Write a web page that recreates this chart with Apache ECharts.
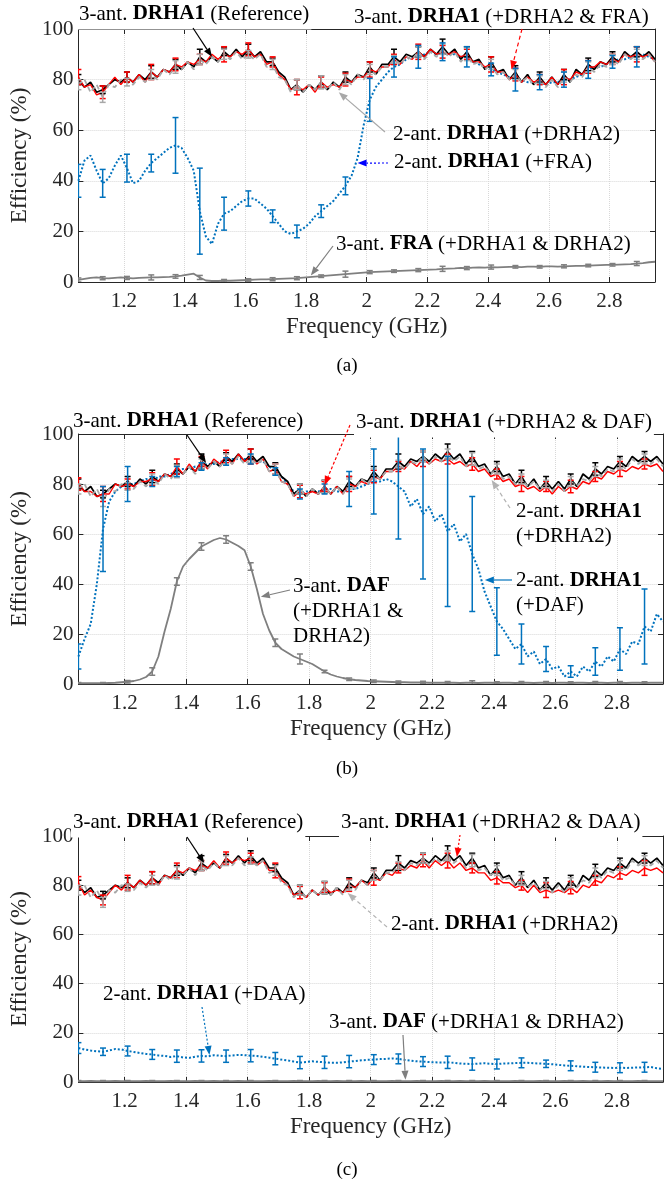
<!DOCTYPE html>
<html><head><meta charset="utf-8">
<script src="https://cdn.jsdelivr.net/npm/echarts@6/dist/echarts.min.js"></script>
<style>html,body{margin:0;padding:0;background:#fff}#c{width:664px;height:1183px}</style>
</head><body><div id="c"></div>
<script>
// sampling grid of the measurements (GHz)
const F0 = 1.05, DF = 0.02, N = 96, ERR_STEP = 4;
const X_MIN = 1.05, X_MAX = 2.95;
const Y_TICKS = [0, 20, 40, 60, 80, 100];

// 3-ant. DRHA1 (Reference) — same in all panels
const refDRHA1 = [
 80,77,79,75,76,78,80,79,81,79,
 82,80,83,81,84,83,86,84,87,85,
 89,87,89,87,91,89,92,89,92,89,
 91,87,87,83,81,76,78,75,78,76,
 79,76,79,77,81,79,82,81,85,82,
 86,86,89,87,90,89,91,89,92,90,
 93,90,92,88,91,87,88,84,87,83,
 84,80,83,79,82,78,81,78,81,78,
 82,79,84,82,86,84,87,86,89,87,
 91,89,91,89,91,88];
const errRef = [2,1.5,2,2.5,2,3,1.5,2,1.5,2,2.5,2,2,3,2,3,2,2,2.5,2,2,2.5,2,2];

// 2-ant. DRHA1 (+DRHA2) — same in all panels
const twoAntDRHA2 = [
 78,80,75,78,73,78,77,80,79,78,
 81,79,82,80,84,82,85,84,87,84,
 88,86,89,87,90,88,91,88,90,88,
 90,85,86,81,80,75,78,75,78,76,
 79,76,79,76,80,78,82,80,84,82,
 85,85,88,86,89,88,91,88,91,89,
 92,89,91,87,90,86,87,84,86,82,
 83,80,82,79,81,78,80,77,80,77,
 81,79,82,81,85,83,86,85,88,86,
 90,88,90,88,90,87];
const errTwoAnt = [2,2,1.5,2,2.5,2,2,1.5,2,2,2.5,2,2,1.5,2,2,2.5,2,2,1.5,2,2,2,2];

// (a) 3-ant. DRHA1 (+DRHA2 & FRA)
const redA = [
 81,77,78,74,75,78,81,78,81,79,
 82,79,83,81,84,83,86,85,87,86,
 88,87,90,88,90,89,91,90,92,89,
 90,86,87,82,80,76,77,76,78,75,
 79,77,78,77,80,79,81,81,84,83,
 85,85,88,86,89,88,91,89,92,90,
 91,90,91,89,90,87,87,85,86,83,
 83,80,82,79,81,79,80,78,81,78,
 81,80,83,82,85,85,87,86,88,87,
 90,89,90,89,90,87];
const errRedA = [3,2.5,2,3,2.5,2,3,2.5,2,3,2,2.5,3,2,3,2.5,2,3,2.5,2,3,2.5,2,3];
// (a) 2-ant. DRHA1 (+FRA)
const blueA = [
 40,48,50,44,39,41,46,50,45,39,
 40,44,47,49,51,53,54,53,49,44,
 28,18,15,23,27,28,30,32,33,33,
 31,29,26,23,20,19,20,21,23,26,
 28,30,32,35,38,42,49,62,72,77,
 80,83,85,86,88,89,89,90,91,90,
 91,90,90,89,89,87,86,85,84,83,
 82,81,80,80,79,79,79,78,79,79,
 80,80,81,82,84,85,85,86,87,88,
 88,89,89,90,89,88];
const errBlueA = [6.5,5.5,5.5,3.5,11,17,6.5,3,2.5,2.5,2.5,3.5,8.5,4,4.5,3.5,4,2.5,4.5,3,3,3.5,2.5,4];
// (a) 3-ant. FRA (+DRHA1 & DRHA2)
const lowA = [
 0.8,1.2,1.6,1.8,1.5,1.4,1.6,1.8,1.6,1.4,
 1.6,1.7,1.8,1.8,1.9,2.0,2.2,2.5,2.9,3.3,
 1.8,0.6,0.4,0.4,0.5,0.5,0.6,0.7,0.8,0.9,
 1.0,1.0,1.1,1.2,1.3,1.4,1.5,1.7,1.9,2.1,
 2.3,2.5,2.7,2.9,3.1,3.3,3.5,3.7,3.9,4.0,
 4.1,4.2,4.3,4.4,4.5,4.6,4.7,4.8,4.9,5.0,
 5.2,5.3,5.4,5.6,5.5,5.7,5.8,5.7,5.9,5.8,
 5.9,6.0,6.0,5.9,6.1,6.1,6.0,6.2,6.2,6.1,
 6.2,6.3,6.4,6.4,6.5,6.6,6.7,6.8,6.8,6.9,
 7.0,7.1,7.3,7.5,7.8,8.0];
const errLowA = [0.8,0.6,0.6,1,0.7,0.8,0.5,0.5,0.6,0.6,0.5,1.2,0.6,0.5,0.6,1,0.6,0.8,0.5,0.5,0.6,0.5,0.5,0.8];

// (b) 3-ant. DRHA1 (+DRHA2 & DAF)
const redB = [
 80,77,77,75,76,76,80,79,80,79,
 81,81,82,81,84,83,87,84,88,85,
 89,86,90,88,91,88,92,89,91,88,
 90,85,86,81,80,75,77,76,77,76,
 79,76,79,76,80,79,81,80,83,82,
 85,85,87,86,89,87,90,88,90,89,
 90,88,89,87,88,85,86,83,84,81,
 82,79,80,78,79,77,79,76,79,77,
 79,78,81,80,83,82,85,84,86,85,
 87,86,88,87,88,85];
const errRedB = [2.5,3,2,2.5,3,2,2.5,3,2,2.5,2,3,2.5,2,3,2,2.5,2,3,2,2.5,2,3,2];
// (b) 2-ant. DRHA1 (+DAF)
const blueB = [
 11,18,24,40,62,73,77,79,80,80,
 81,82,81,83,83,84,85,86,86,87,
 87,88,88,89,89,90,90,90,90,89,
 89,87,85,83,80,77,76,77,77,77,
 78,78,77,77,78,78,79,80,81,81,
 82,81,79,77,71,74,68,71,65,68,
 61,64,57,60,52,46,37,31,25,22,
 18,14,16,11,13,8,10,6,7,3,
 5,3,7,5,9,7,11,9,14,12,
 17,16,23,21,28,25];
const errBlueB = [5,17,7,2,2,1.5,1.5,2,1.5,2,2,7,13,21,26,30,23,13.5,8,5,2.3,5.5,8.5,15];
// (b) 3-ant. DAF (+DRHA1 & DRHA2)
const dafB = [
 0.3,0.3,0.3,0.3,0.3,0.4,0.5,0.7,0.9,1.2,
 1.8,2.8,5.0,11,21,30,41,47,50,52.5,
 55,56.3,57.6,58.4,57.8,56.5,55.2,53.5,47,38,
 28,21.5,16.5,14,12.5,11,10,9,8,6.5,
 5,3.8,3,2.4,1.9,1.6,1.4,1.2,1.1,1.0,
 0.9,0.8,0.7,0.7,0.6,0.6,0.6,0.5,0.5,0.5,
 0.5,0.5,0.4,0.5,0.5,0.4,0.5,0.5,0.4,0.5,
 0.5,0.4,0.5,0.5,0.4,0.5,0.5,0.4,0.5,0.5,
 0.4,0.5,0.5,0.4,0.5,0.5,0.4,0.5,0.5,0.4,
 0.5,0.5,0.4,0.5,0.5,0.5];
const errDafB = [0.3,0.3,0.5,1.5,1.5,1.5,1.5,1.5,1.5,2,0.5,0.5,0.5,0.5,0.5,0.5,0.8,0.5,0.5,0.5,0.5,0.5,0.5,0.5];

// (c) 3-ant. DRHA1 (+DRHA2 & DAA)
const redC = [
 81,76,78,75,74,77,80,78,81,79,
 82,80,83,80,84,83,86,85,87,86,
 88,87,90,87,91,89,91,90,91,88,
 90,86,86,82,80,76,77,75,78,76,
 79,77,78,77,80,79,82,80,83,82,
 85,84,87,86,88,87,90,87,90,88,
 90,87,89,86,87,85,85,82,83,81,
 81,79,80,77,80,77,78,77,78,77,
 79,77,80,79,82,81,84,83,85,84,
 86,85,87,86,87,85];
const errRedC = [2.5,2,3,2.5,3,2,2.5,2,3,2.5,2,2.5,3,2,2.5,3,2,2.5,2,3,2.5,2,2.5,3];
// (c) 2-ant. DRHA1 (+DAA)
const blueC = [
 13.8,13.2,12.8,12.5,12.3,12.8,13.4,13.2,12.6,12.2,
 11.8,11.4,11.2,10.8,10.6,10.2,10.5,10.0,9.8,10.3,
 10.6,10.4,10.9,10.7,10.5,10.8,11.0,10.9,10.7,10.6,
 10.2,9.9,9.5,9.1,8.8,8.3,7.9,8.1,8.4,8.2,
 8.0,7.8,7.8,8.0,8.3,8.5,8.8,9.0,9.1,9.3,
 9.4,9.6,9.4,9.0,8.7,8.4,8.3,8.1,8.0,7.9,
 8.0,7.8,7.5,7.4,7.3,7.5,7.6,7.4,7.3,7.5,
 7.6,7.7,7.8,7.8,7.6,7.5,7.4,7.2,7.0,6.7,
 6.6,6.4,6.2,6.1,6.0,5.9,5.8,5.7,5.8,5.7,
 5.8,5.9,6.0,6.1,5.6,5.3];
const errBlueC = [2.2,1.5,2,2,2.5,2.5,2.5,2.5,2.5,2.5,2.5,2.5,2,2,2,2.5,2.5,2,2,1.5,2,2,2,2];
// (c) 3-ant. DAF (+DRHA1 & DRHA2)
const dafC = [
 0.3,0.3,0.4,0.3,0.3,0.3,0.4,0.3,0.3,0.3,
 0.3,0.4,0.3,0.3,0.3,0.4,0.3,0.3,0.3,0.4,
 0.3,0.3,0.4,0.3,0.3,0.3,0.4,0.3,0.3,0.3,
 0.3,0.4,0.3,0.3,0.3,0.4,0.3,0.3,0.3,0.4,
 0.3,0.3,0.4,0.3,0.3,0.3,0.4,0.3,0.3,0.3,
 0.3,0.4,0.3,0.3,0.3,0.4,0.3,0.3,0.3,0.4,
 0.3,0.3,0.4,0.3,0.3,0.3,0.4,0.3,0.3,0.3,
 0.3,0.4,0.3,0.3,0.3,0.4,0.3,0.3,0.3,0.4,
 0.3,0.3,0.4,0.3,0.3,0.3,0.4,0.3,0.3,0.3,
 0.3,0.4,0.3,0.3,0.3,0.3];
const errDafC = [0.3,0.3,0.3,0.3,0.3,0.3,0.3,0.3,0.3,0.3,0.3,0.3,0.3,0.3,0.3,0.3,0.3,0.3,0.3,0.3,0.3,0.3,0.3,0.3];

const FONT = '"Liberation Serif","Times New Roman",serif';
const AX = '#262626';
const C_BLACK = '#000000', C_RED = '#ff0000', C_LGRAY = '#a8a8a8', C_BLUE = '#0072bd', C_DGRAY = '#7f7f7f';

const freqAt = i => Math.round((F0 + DF * i) * 100) / 100;

const grids = [
  {left: 70, top: 29, width: 585, height: 253},
  {left: 69, top: 434, width: 594, height: 250},
  {left: 70, top: 836, width: 593, height: 246}
];

const xAxes = [], yAxes = [];
grids.forEach((g, gi) => {
  xAxes.push({gridIndex: gi, type: 'value', min: X_MIN, max: X_MAX, splitNumber: 9, position: 'bottom',
    axisLine: {show: true, onZero: false, lineStyle: {color: AX, width: 1}},
    axisTick: {show: true, inside: true, length: 5, lineStyle: {color: AX}},
    axisLabel: {show: true, margin: 9, fontSize: 21, fontFamily: FONT, color: AX, showMinLabel: false, showMaxLabel: false,
      formatter: v => String(+(+v).toFixed(1))},
    splitLine: {show: true, lineStyle: {color: '#d8d8d8', type: 'dotted', width: 1}},
    name: 'Frequency (GHz)', nameLocation: 'middle', nameGap: 33,
    nameTextStyle: {fontSize: 23, fontFamily: FONT, color: AX}});
  xAxes.push({gridIndex: gi, type: 'value', min: X_MIN, max: X_MAX, splitNumber: 9, position: 'top',
    axisLine: {show: true, onZero: false, lineStyle: {color: AX, width: 1}},
    axisTick: {show: true, inside: true, length: 5, lineStyle: {color: AX}},
    axisLabel: {show: false}, splitLine: {show: false}});
  yAxes.push({gridIndex: gi, type: 'value', min: Y_TICKS[0], max: Y_TICKS[Y_TICKS.length - 1], interval: 20, position: 'left',
    axisLine: {show: true, onZero: false, lineStyle: {color: AX, width: 1}},
    axisTick: {show: true, inside: true, length: 5, lineStyle: {color: AX}},
    axisLabel: {show: true, margin: 5, fontSize: 21, fontFamily: FONT, color: AX},
    splitLine: {show: true, lineStyle: {color: '#d8d8d8', type: 'dotted', width: 1}},
    name: 'Efficiency (%)', nameLocation: 'middle', nameGap: 40, nameRotate: 90,
    nameTextStyle: {fontSize: 23, fontFamily: FONT, color: AX}});
  yAxes.push({gridIndex: gi, type: 'value', min: 0, max: 100, interval: 20, position: 'right',
    axisLine: {show: true, onZero: false, lineStyle: {color: AX, width: 1}},
    axisTick: {show: true, inside: true, length: 5, lineStyle: {color: AX}},
    axisLabel: {show: false}, splitLine: {show: false}});
});

const series = [];
function addLine(g, vals, color, width, dash, z) {
  series.push({type: 'line', xAxisIndex: 2 * g, yAxisIndex: 2 * g, z, silent: true, animation: false,
    symbol: 'none', showSymbol: false, clip: true,
    data: vals.map((v, i) => [freqAt(i), v]),
    lineStyle: {color, width, type: dash || 'solid'}});
}
function addErr(g, vals, errs, color, z) {
  series.push({type: 'custom', xAxisIndex: 2 * g, yAxisIndex: 2 * g, z, silent: true, animation: false, clip: true,
    data: errs.map((e, k) => [freqAt(k * ERR_STEP), vals[k * ERR_STEP], e]),
    encode: {x: 0, y: 1},
    renderItem: (p, api) => {
      const x = api.value(0), y = api.value(1), e = api.value(2);
      const lo = api.coord([x, y - e]), hi = api.coord([x, y + e]);
      const w = 3, st = {stroke: color, lineWidth: 1.5};
      return {type: 'group', children: [
        {type: 'line', shape: {x1: lo[0], y1: lo[1], x2: hi[0], y2: hi[1]}, style: st},
        {type: 'line', shape: {x1: lo[0] - w, y1: lo[1], x2: lo[0] + w, y2: lo[1]}, style: st},
        {type: 'line', shape: {x1: hi[0] - w, y1: hi[1], x2: hi[0] + w, y2: hi[1]}, style: st}]};
    }});
}
const panels = [
  {red: redA, errRed: errRedA, blue: blueA, errBlue: errBlueA, low: lowA, errLow: errLowA},
  {red: redB, errRed: errRedB, blue: blueB, errBlue: errBlueB, low: dafB, errLow: errDafB},
  {red: redC, errRed: errRedC, blue: blueC, errBlue: errBlueC, low: dafC, errLow: errDafC}
];
panels.forEach((p, g) => {
  addLine(g, p.blue, C_BLUE, 2, [2, 2], 2);
  addLine(g, refDRHA1, C_BLACK, 1.7, null, 3);
  addLine(g, p.red, C_RED, 1.4, null, 4);
  addLine(g, twoAntDRHA2, C_LGRAY, 1.8, [5, 3], 5);
  addLine(g, p.low, C_DGRAY, 1.8, null, 5);
  addErr(g, refDRHA1, errRef, C_BLACK, 6);
  addErr(g, p.red, p.errRed, C_RED, 6);
  addErr(g, twoAntDRHA2, errTwoAnt, C_LGRAY, 6);
  addErr(g, p.low, p.errLow, C_DGRAY, 6);
  addErr(g, p.blue, p.errBlue, C_BLUE, 7);
});

const chart = echarts.init(document.getElementById('c'));
chart.setOption({animation: false, backgroundColor: '#fff', grid: grids, xAxis: xAxes, yAxis: yAxes, series});

// annotations: text position (px layout), arrow tail (px), arrow tip (data coords)
const annotations = [
  {g: 0, text: '3-ant. {b|DRHA1} (Reference)', x: 77, y: 15, bg: true, tail: [193, 28], tip: [1.49, 89], color: '#000', dash: null},
  {g: 0, text: '3-ant. {b|DRHA1} (+DRHA2 & FRA)', x: 352, y: 18, bg: false, tail: [522, 29], tip: [2.477, 84], color: '#ff0000', dash: [4, 3]},
  {g: 0, text: '2-ant. {b|DRHA1} (+DRHA2)', x: 391, y: 135, bg: false, tail: [385, 132], tip: [1.908, 75], color: '#a8a8a8', dash: null},
  {g: 0, text: '2-ant. {b|DRHA1} (+FRA)', x: 392, y: 163, bg: false, tail: [388, 163], tip: [1.97, 47], color: '#0000ff', dash: [2, 2]},
  {g: 0, text: '3-ant. {b|FRA} (+DRHA1 & DRHA2)', x: 334, y: 245, bg: false, tail: [333, 246], tip: [1.816, 2.6], color: '#7f7f7f', dash: null},
  {g: 1, text: '3-ant. {b|DRHA1} (Reference)', x: 71, y: 422, bg: false, tail: [187, 435], tip: [1.465, 88.4], color: '#000', dash: null},
  {g: 1, text: '3-ant. {b|DRHA1} (+DRHA2 & DAF)', x: 354, y: 423, bg: true, tail: [350, 425], tip: [1.85, 79.6], color: '#ff0000', dash: [3, 2]},
  {g: 1, text: '2-ant. {b|DRHA1}\n(+DRHA2)', x: 514, y: 525, bg: false, tail: [510, 508], tip: [2.393, 81.6], color: '#b3b3b3', dash: [4, 3]},
  {g: 1, text: '2-ant. {b|DRHA1}\n(+DAF)', x: 514, y: 594, bg: false, tail: [512, 580], tip: [2.371, 41.6], color: '#0072bd', dash: null},
  {g: 1, text: '3-ant. {b|DAF}\n(+DRHA1 &\nDRHA2)', x: 291, y: 612, bg: false, tail: [290, 590], tip: [1.643, 34.9], color: '#7f7f7f', dash: null},
  {g: 2, text: '3-ant. {b|DRHA1} (Reference)', x: 71, y: 823, bg: true, tail: [187, 837], tip: [1.459, 89], color: '#000', dash: null},
  {g: 2, text: '3-ant. {b|DRHA1} (+DRHA2 & DAA)', x: 339, y: 823, bg: true, tail: [460, 835], tip: [2.28, 91.5], color: '#ff0000', dash: [2, 2]},
  {g: 2, text: '2-ant. {b|DRHA1} (+DRHA2)', x: 389, y: 925, bg: false, tail: [387, 927], tip: [1.925, 76.8], color: '#b3b3b3', dash: [4, 3]},
  {g: 2, text: '2-ant. {b|DRHA1} (+DAA)', x: 101, y: 995, bg: false, tail: [202, 1007], tip: [1.476, 11], color: '#0072bd', dash: [2, 2]},
  {g: 2, text: '3-ant. {b|DAF} (+DRHA1 & DRHA2)', x: 327, y: 1023, bg: false, tail: [403, 1035], tip: [2.113, 0.9], color: '#7f7f7f', dash: null}
];
const captions = [{t: '(a)', x: 347, y: 366}, {t: '(b)', x: 347, y: 769}, {t: '(c)', x: 347, y: 1170}];

const FS = 21;
const els = [];
annotations.forEach(a => {
  els.push({type: 'text', z: 100, x: a.x, y: a.y, style: {
    text: a.text, fontSize: FS, fontFamily: FONT, fill: '#000', lineHeight: 25,
    align: 'left', verticalAlign: 'middle', textAlign: 'left', textVerticalAlign: 'middle',
    backgroundColor: a.bg ? '#fff' : 'transparent', padding: [1, 2, 3, 2],
    rich: {b: {fontWeight: 'bold', fontSize: FS, fontFamily: FONT, fill: '#000', lineHeight: 25}}}});
  const tip = chart.convertToPixel({xAxisIndex: 2 * a.g, yAxisIndex: 2 * a.g}, a.tip);
  const tail = a.tail;
  const dx = tip[0] - tail[0], dy = tip[1] - tail[1], L = Math.hypot(dx, dy) || 1;
  const ux = dx / L, uy = dy / L, hl = 9, hw = 3.5;
  const bx = tip[0] - ux * hl, by = tip[1] - uy * hl;
  els.push({type: 'line', z: 101, shape: {x1: tail[0], y1: tail[1], x2: bx, y2: by},
    style: {stroke: a.color, lineWidth: 1.2, lineDash: a.dash || null}});
  els.push({type: 'polygon', z: 101, shape: {points: [[tip[0], tip[1]], [bx - uy * hw, by + ux * hw], [bx + uy * hw, by - ux * hw]]},
    style: {fill: a.color}});
});
captions.forEach(c => {
  els.push({type: 'text', z: 100, x: c.x, y: c.y, style: {text: c.t, fontSize: 19, fontFamily: FONT, fill: '#000',
    align: 'center', verticalAlign: 'middle', textAlign: 'center', textVerticalAlign: 'middle'}});
});
chart.setOption({graphic: {elements: els}});
</script>
</body></html>
